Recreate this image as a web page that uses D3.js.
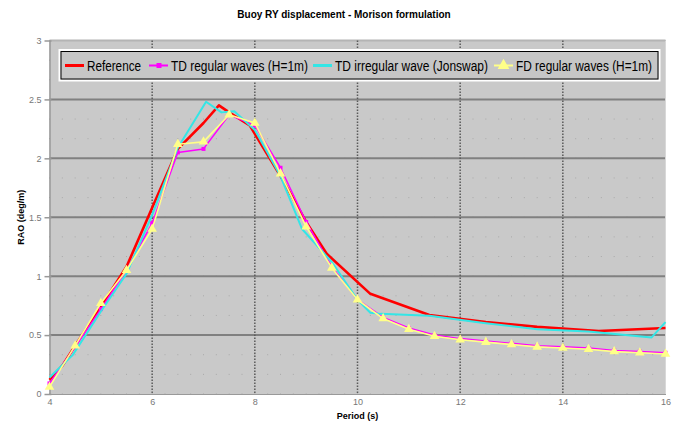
<!DOCTYPE html>
<html>
<head>
<meta charset="utf-8">
<script src="https://cdn.jsdelivr.net/npm/d3@7"></script>
<style>
  body { margin: 0; background: #fff; }
  text { font-family: "Liberation Sans", Arial, sans-serif; }
</style>
</head>
<body>
<div id="chart"></div>
<script>
// regular period grid used by the TD regular and FD series
const periods = [4, 4.5, 5, 5.5, 6, 6.5, 7, 7.5, 8, 8.5, 9, 9.5, 10, 10.5, 11, 11.5, 12, 12.5, 13, 13.5, 14, 14.5, 15, 15.5, 16];
const tdRegular = [0.09, 0.40, 0.72, 1.05, 1.45, 2.05, 2.08, 2.37, 2.28, 1.92, 1.46, 1.08, 0.80, 0.65, 0.56, 0.50, 0.47, 0.45, 0.43, 0.41, 0.40, 0.39, 0.37, 0.36, 0.35];
const fdRegular = [0.06, 0.41, 0.77, 1.05, 1.40, 2.12, 2.14, 2.37, 2.30, 1.87, 1.42, 1.07, 0.80, 0.64, 0.55, 0.49, 0.46, 0.44, 0.42, 0.40, 0.39, 0.38, 0.36, 0.35, 0.34];

// reference curve
const refPeriods = [4, 4.25, 4.5, 5, 5.5, 6, 6.5, 7, 7.3, 7.5, 7.9, 8.5, 9, 9.4, 10.25, 11.4, 12.5, 13.5, 14.7, 16];
const refRao = [0.12, 0.24, 0.41, 0.74, 1.08, 1.58, 2.08, 2.30, 2.45, 2.39, 2.28, 1.85, 1.46, 1.19, 0.85, 0.67, 0.61, 0.57, 0.535, 0.56];

// TD irregular wave (Jonswap)
const irrPeriods = [4, 4.45, 5, 5.5, 6, 6.5, 7.05, 7.35, 7.6, 8, 8.5, 8.92, 9.5, 10, 10.25, 10.45, 11.4, 12.5, 13.5, 14.5, 15.73, 16];
const irrRao = [0.14, 0.33, 0.70, 1.02, 1.52, 2.09, 2.48, 2.39, 2.40, 2.24, 1.85, 1.40, 1.12, 0.80, 0.69, 0.68, 0.665, 0.60, 0.55, 0.53, 0.48, 0.61];

const xTicks = [4, 6, 8, 10, 12, 14, 16];
const yTicks = [0, 0.5, 1, 1.5, 2, 2.5, 3];

const series = [
  { name: "Reference", x: refPeriods, y: refRao, color: "#ff0000", width: 2.6, marker: null, textW: 54 },
  { name: "TD regular waves (H=1m)", x: periods, y: tdRegular, color: "#ff00ff", width: 1.5, marker: "square", textW: 137 },
  { name: "TD irregular wave (Jonswap)", x: irrPeriods, y: irrRao, color: "#33e6e6", width: 2, marker: null, textW: 153 },
  { name: "FD regular waves (H=1m)", x: periods, y: fdRegular, color: "#ffff88", width: 1.6, marker: "triangle", textW: 136 },
];

const width = 678, height = 430;
const plotLeft = 49.5, plotRight = 665.5, plotTop = 40.5, plotBottom = 394;

const x = d3.scaleLinear().domain([4, 16]).range([plotLeft, plotRight]);
const y = d3.scaleLinear().domain([0, 3]).range([plotBottom, plotTop]);

const svg = d3.select("#chart").append("svg")
  .attr("width", width)
  .attr("height", height);

// plot background
svg.append("rect")
  .attr("x", plotLeft).attr("y", plotTop)
  .attr("width", plotRight - plotLeft).attr("height", plotBottom - plotTop)
  .attr("fill", "#c9c9c9");

// minor dotted lattice
const minorX = d3.range(4, 16.001, 0.25);
const minorY = d3.range(0, 3.001, 1 / 6);
const dots = [];
minorX.forEach((mx) => minorY.forEach((my) => dots.push([mx, my])));
svg.append("g")
  .attr("fill", "#a9a9a9")
  .selectAll("rect")
  .data(dots)
  .join("rect")
  .attr("x", (d) => x(d[0]) - 0.5)
  .attr("y", (d) => y(d[1]) - 0.5)
  .attr("width", 1)
  .attr("height", 1);

// horizontal major grid
svg.append("g")
  .selectAll("line")
  .data(yTicks.filter((d) => d > 0))
  .join("line")
  .attr("x1", plotLeft).attr("x2", plotRight)
  .attr("y1", (d) => y(d)).attr("y2", (d) => y(d))
  .attr("stroke", (d) => (d === 3 ? "#b4b4b4" : "#808080"))
  .attr("stroke-width", 2);

// vertical dashed grid
svg.append("g")
  .selectAll("line")
  .data(xTicks.filter((d) => d > 4 && d < 16))
  .join("line")
  .attr("x1", (d) => x(d)).attr("x2", (d) => x(d))
  .attr("y1", plotTop).attr("y2", plotBottom)
  .attr("stroke", "#5a5a5a")
  .attr("stroke-width", 1.5)
  .attr("stroke-dasharray", "1.5,1.5");

// right edge
svg.append("line")
  .attr("x1", plotRight).attr("x2", plotRight)
  .attr("y1", plotTop).attr("y2", plotBottom)
  .attr("stroke", "#d8d8d8")
  .attr("stroke-width", 1);

// axes
const yAxis = d3.axisLeft(y).tickValues(yTicks).tickSize(4).tickSizeOuter(0)
  .tickFormat((d) => String(d));
const gy = svg.append("g").attr("transform", `translate(${plotLeft},0)`).call(yAxis);
gy.select(".domain").attr("stroke", "#999").attr("stroke-width", 1.5);
gy.selectAll(".tick line").attr("stroke", "#999").attr("stroke-width", 1.5).attr("x2", -5).attr("x1", 2);
gy.selectAll(".tick text").attr("fill", "#777").attr("font-size", 9).attr("x", -8);

const xAxis = d3.axisBottom(x).tickValues(xTicks).tickSize(0).tickSizeOuter(0);
const gx = svg.append("g").attr("transform", `translate(0,${plotBottom})`).call(xAxis);
gx.select(".domain").attr("stroke", "#999").attr("stroke-width", 1);
gx.selectAll(".tick text").attr("fill", "#777").attr("font-size", 9).attr("y", 5);

// series
const line = d3.line();
series.forEach((s) => {
  const pts = s.x.map((v, i) => [x(v), y(s.y[i])]);
  svg.append("path")
    .attr("d", line(pts))
    .attr("fill", "none")
    .attr("stroke", s.color)
    .attr("stroke-width", s.width)
    .attr("stroke-linejoin", "round");
  if (s.marker === "square") {
    svg.append("g").attr("fill", s.color)
      .selectAll("rect").data(pts).join("rect")
      .attr("x", (d) => d[0] - 2).attr("y", (d) => d[1] - 2)
      .attr("width", 4).attr("height", 4);
  } else if (s.marker === "triangle") {
    svg.append("g").attr("fill", s.color)
      .selectAll("path").data(pts).join("path")
      .attr("transform", (d) => `translate(${d[0]},${d[1]})`)
      .attr("d", d3.symbol(d3.symbolTriangle, 40));
  }
});

// legend
const lg = svg.append("g");
lg.append("rect")
  .attr("x", 59.5).attr("y", 50).attr("width", 600).attr("height", 30.5)
  .attr("fill", "#c6c6c6").attr("stroke", "#fff").attr("stroke-width", 2);
lg.append("rect")
  .attr("x", 61).attr("y", 51.5).attr("width", 597).attr("height", 27.5)
  .attr("fill", "none").attr("stroke", "#000").attr("stroke-width", 1);

const legendX = [65, 149, 313, 494];
series.forEach((s, i) => {
  const lx = legendX[i];
  const ly = 65.5;
  lg.append("line")
    .attr("x1", lx).attr("x2", lx + 19)
    .attr("y1", ly).attr("y2", ly)
    .attr("stroke", s.color).attr("stroke-width", s.marker ? 2 : 3);
  if (s.marker === "square") {
    lg.append("rect").attr("x", lx + 7.5).attr("y", ly - 2.5)
      .attr("width", 5).attr("height", 5).attr("fill", s.color);
  } else if (s.marker === "triangle") {
    lg.append("path").attr("transform", `translate(${lx + 9.5},${ly})`)
      .attr("d", d3.symbol(d3.symbolTriangle, 60)).attr("fill", s.color);
  }
  lg.append("text")
    .attr("x", lx + 22).attr("y", ly + 5.5)
    .attr("font-size", 14)
    .attr("textLength", s.textW)
    .attr("lengthAdjust", "spacingAndGlyphs")
    .attr("fill", "#000")
    .text(s.name);
});

// title and axis labels
svg.append("text")
  .attr("x", 344).attr("y", 18)
  .attr("text-anchor", "middle")
  .attr("font-size", 10).attr("font-weight", "bold")
  .text("Buoy RY displacement - Morison formulation");

svg.append("text")
  .attr("x", (plotLeft + plotRight) / 2).attr("y", 419)
  .attr("text-anchor", "middle")
  .attr("font-size", 9).attr("font-weight", "bold")
  .text("Period (s)");

svg.append("text")
  .attr("transform", `translate(24,${(plotTop + plotBottom) / 2}) rotate(-90)`)
  .attr("text-anchor", "middle")
  .attr("font-size", 9).attr("font-weight", "bold")
  .text("RAO (deg/m)");
</script>
</body>
</html>
